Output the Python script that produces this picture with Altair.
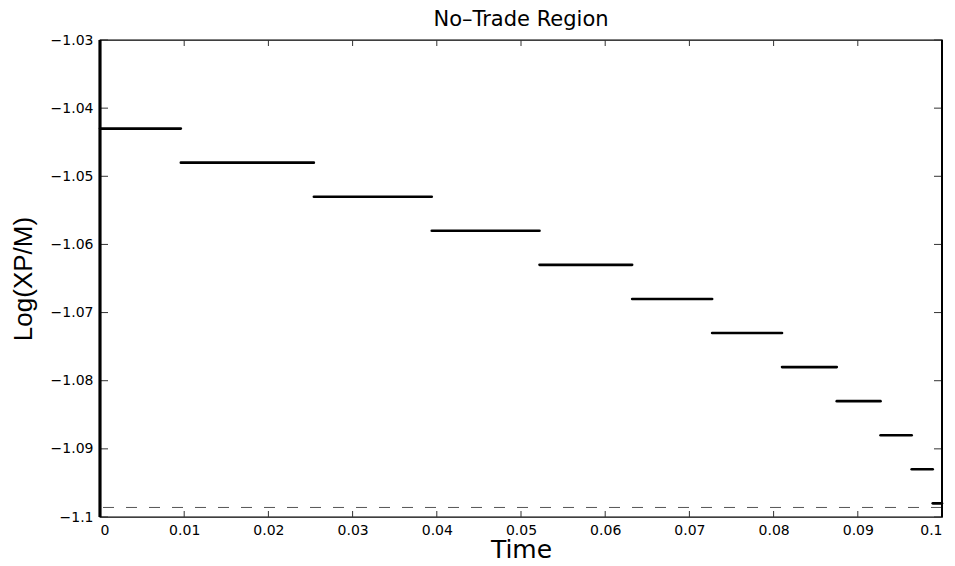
import altair as alt
import pandas as pd

# Segment start / end times and the no-trade boundary level
t_start = [0.0, 0.0096, 0.0254, 0.0394, 0.0522, 0.0632, 0.0727, 0.0810, 0.0875, 0.0927, 0.0964, 0.0989]
t_end = [0.0096, 0.0254, 0.0394, 0.0522, 0.0632, 0.0727, 0.0810, 0.0875, 0.0927, 0.0964, 0.0989, 0.1]
levels = [-1.043, -1.048, -1.053, -1.058, -1.063, -1.068, -1.073, -1.078, -1.083, -1.088, -1.093, -1.098]
dashed_level = [-1.0986]

x_ticks = [0.0, 0.01, 0.02, 0.03, 0.04, 0.05, 0.06, 0.07, 0.08, 0.09, 0.1]
y_ticks = [-1.03, -1.04, -1.05, -1.06, -1.07, -1.08, -1.09, -1.1]

W, H = 842, 477
FONT = "Liberation Sans"
WIDE = "DejaVu Sans"
LABEL_EXPR = "replace(format(datum.value, '~g'), '-', '\u2212')"

seg_df = pd.DataFrame({"t0": t_start, "t1": t_end, "v": levels})
dash_df = pd.DataFrame({"v": dashed_level})
xt_df = pd.DataFrame({"x": x_ticks})
yt_df = pd.DataFrame({"y": y_ticks})

xscale = alt.Scale(domain=[0, 0.1], nice=False, zero=False)
yscale = alt.Scale(domain=[-1.1, -1.03], nice=False, zero=False)

x_axis = alt.Axis(values=x_ticks, labelExpr=LABEL_EXPR, ticks=False, grid=False, domain=False,
                  labelFont=WIDE, labelFontSize=14, labelColor="black", labelPadding=6,
                  title="Time", titleFont=WIDE, titleFontSize=25, titleFontWeight="normal",
                  titleColor="black", titlePadding=0)
y_axis = alt.Axis(values=y_ticks, labelExpr=LABEL_EXPR, ticks=False, grid=False, domain=False,
                  labelFont=WIDE, labelFontSize=14, labelColor="black", labelPadding=7,
                  title="Log(XP/M)", titleFont=FONT, titleFontSize=26, titleFontWeight="normal",
                  titleColor="black", titlePadding=14)

segments = alt.Chart(seg_df).mark_rule(color="black", strokeWidth=2.6, strokeCap="round").encode(
    x=alt.X("t0:Q", scale=xscale, axis=x_axis),
    x2="t1:Q",
    y=alt.Y("v:Q", scale=yscale, axis=y_axis),
)

dashed = alt.Chart(dash_df).mark_rule(color="#555555", strokeWidth=1, strokeDash=[11, 12]).encode(
    y=alt.Y("v:Q", scale=yscale),
)

tick_color = "#333333"
xb = alt.Chart(xt_df).mark_rule(color=tick_color, strokeWidth=1).encode(
    x=alt.X("x:Q", scale=xscale), y=alt.value(H), y2=alt.value(H - 6))
xtp = alt.Chart(xt_df).mark_rule(color=tick_color, strokeWidth=1).encode(
    x=alt.X("x:Q", scale=xscale), y=alt.value(0), y2=alt.value(6))
yl = alt.Chart(yt_df).mark_rule(color=tick_color, strokeWidth=1).encode(
    y=alt.Y("y:Q", scale=yscale), x=alt.value(0), x2=alt.value(8))
yr = alt.Chart(yt_df).mark_rule(color=tick_color, strokeWidth=1).encode(
    y=alt.Y("y:Q", scale=yscale), x=alt.value(W - 8), x2=alt.value(W))

left_edge = alt.Chart(yt_df).mark_rule(color="black", strokeWidth=2.2).encode(
    x=alt.value(0), y=alt.value(0), y2=alt.value(H))
right_edge = alt.Chart(yt_df).mark_rule(color="black", strokeWidth=2).encode(
    x=alt.value(W), y=alt.value(0), y2=alt.value(H))

chart = alt.layer(dashed, segments, xb, xtp, yl, yr, left_edge, right_edge).properties(
    width=W, height=H,
    background="white",
    title=alt.TitleParams("No\u2013Trade Region", font=WIDE, fontSize=21, fontWeight="normal",
                          color="black", anchor="middle", offset=3),
    padding={"left": 92, "top": 32, "right": 5, "bottom": 41},
    autosize=alt.AutoSizeParams(type="none"),
).configure_view(stroke="black", strokeWidth=1.3)

chart.save("out.html", embed_options={"renderer": "svg", "actions": False})
